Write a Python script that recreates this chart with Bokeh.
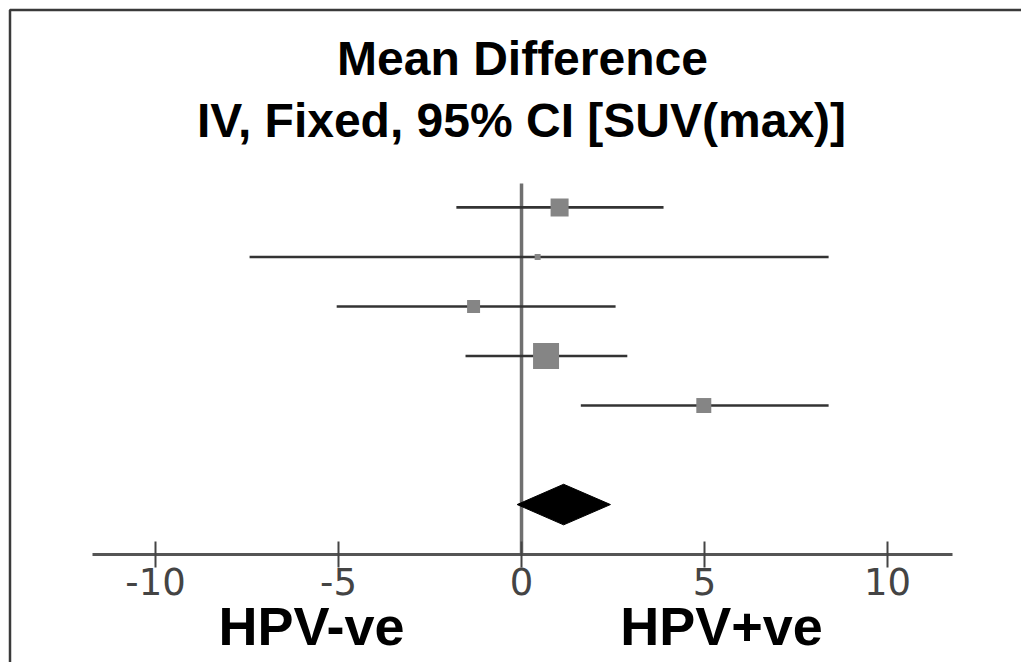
from bokeh.plotting import figure
from bokeh.models import (Range1d, LinearAxis, FixedTicker, Label, ColumnDataSource)
from bokeh.embed import file_html
from bokeh.resources import INLINE

# ---- data ----
studies = ["Study 1", "Study 2", "Study 3", "Study 4", "Study 5"]
rows = [1, 2, 3, 4, 5]
mean_diff = [1.04, 0.44, -1.31, 0.67, 4.98]
ci_low = [-1.78, -7.43, -5.05, -1.53, 1.62]
ci_high = [3.88, 8.39, 2.57, 2.89, 8.39]
weights = [22.7, 2.5, 11.8, 47.3, 15.7]

pooled_row = 7
pooled_est = 1.15
pooled_low = -0.12
pooled_high = 2.43

axis_row = 8
tick_values = [-10, -5, 0, 5, 10]
tick_labels = ["-10", "-5", "0", "5", "10"]

title_lines = ["Mean Difference", "IV, Fixed, 95% CI [SUV(max)]"]
favours_left = "HPV-ve"
favours_right = "HPV+ve"

W, H = 1021, 662
X0, X1 = -14.235, 13.66
Y0, Y1 = 10.19, -3.18
PX_X = W / (X1 - X0)
PX_Y = H / (Y0 - Y1)

p = figure(width=W, height=H, output_backend="svg", toolbar_location=None,
           x_range=Range1d(X0, X1), y_range=Range1d(Y0, Y1),
           min_border=0, min_border_left=0, min_border_right=0,
           min_border_top=0, min_border_bottom=0)
p.xaxis.visible = False
p.yaxis.visible = False
p.grid.visible = False
p.outline_line_color = None
p.background_fill_color = "white"
p.border_fill_color = "white"
p.renderers = []
p.below = []
p.left = []

# frame border (only top and left edges fall inside the window)
bx = X0 + 9.5 / PX_X
by = Y1 + 9.5 / PX_Y
p.line(x=[bx, bx, X1 - 0.01], y=[Y0 - 0.01, by, by], line_color="#3a3a3a",
       line_width=2.5, line_cap="butt")

# zero line
p.segment(x0=[0], y0=[0.515], x1=[0], y1=[axis_row], line_color="#707070", line_width=3.5)

src = ColumnDataSource(dict(
    y=rows, est=mean_diff, lo=ci_low, hi=ci_high,
    size=[3.78 * w ** 0.5 for w in weights]))

p.segment(x0="lo", y0="y", x1="hi", y1="y", source=src, line_color="#333333", line_width=2.7)
p.scatter(x="est", y="y", size="size", marker="square", source=src,
          fill_color="#858585", line_color=None)

# pooled diamond
dh = 0.41
p.patch(x=[pooled_low, pooled_est, pooled_high, pooled_est],
        y=[pooled_row, pooled_row - dh, pooled_row, pooled_row + dh],
        fill_color="black", line_color="black")

# axis
ax = LinearAxis(fixed_location=axis_row, bounds=(-11.72, 11.78),
                ticker=FixedTicker(ticks=tick_values))
ax.major_label_overrides = {v: l for v, l in zip(tick_values, tick_labels)}
ax.axis_line_color = "#555555"
ax.axis_line_width = 3
ax.major_tick_line_color = "#444444"
ax.major_tick_line_width = 2
ax.major_tick_in = 13
ax.major_tick_out = 13
ax.minor_tick_line_color = None
ax.major_label_text_font = "DejaVu Sans"
ax.major_label_text_font_size = "37px"
ax.major_label_text_color = "#444444"
ax.major_label_standoff = 1
p.add_layout(ax, "below")

# titles and favours labels
tf = "Liberation Sans"
def add_text(txt, x, y_top, size):
    p.add_layout(Label(x=x, y=H - y_top, x_units="screen", y_units="screen",
                       text=txt, text_align="center", text_baseline="alphabetic",
                       text_font=tf, text_font_style="bold", text_font_size=size,
                       text_color="black"))

add_text(title_lines[0], 522, 58, "48px")
add_text(title_lines[1], 521, 120, "48px")
add_text(favours_left, 311, 625, "54px")
add_text(favours_right, 721, 625, "54px")

open("out.html", "w").write(file_html(p, INLINE))
